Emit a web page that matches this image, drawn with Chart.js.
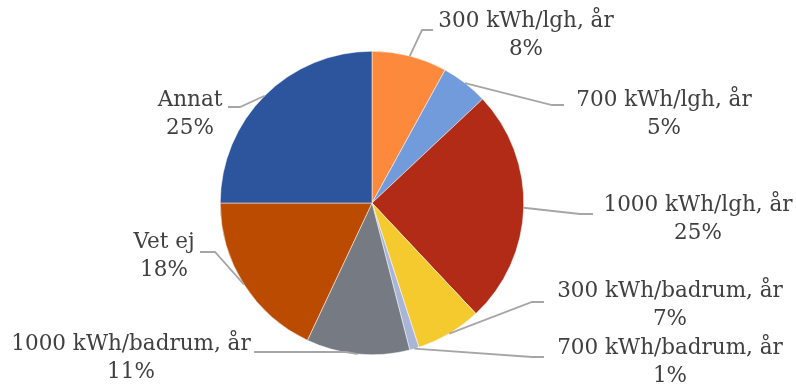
<!DOCTYPE html>
<html>
<head>
<meta charset="utf-8">
<script src="https://cdn.jsdelivr.net/npm/chart.js@4"></script>
<style>
  html, body { margin: 0; padding: 0; background: #fff; }
  canvas { display: block; }
</style>
</head>
<body>
<canvas id="pie" width="796" height="385"></canvas>
<script>
// Slices, clockwise from 12 o'clock
let categories = [
    "300 kWh/lgh, år",
    "700 kWh/lgh, år",
    "1000 kWh/lgh, år",
    "300 kWh/badrum, år",
    "700 kWh/badrum, år",
    "1000 kWh/badrum, år",
    "Vet ej",
    "Annat"
];
let shares = [8, 5, 25, 7, 1, 11, 18, 25];
let sliceColors = ["#FD8A3C", "#729BDC", "#B22B17", "#F5CA2F", "#A9B5D6", "#767A83", "#BB4B00", "#2C559E"];

// Where each label sits: text centre x, first line y, and the leader's bend/end
let labelSpots = [
    { x: 526, y: 21,  bendX: 422, bendY: 30,  endX: 433 },
    { x: 664, y: 100, bendX: 552, bendY: 105, endX: 564 },
    { x: 698, y: 205, bendX: 580, bendY: 214, endX: 593 },
    { x: 670, y: 291, bendX: 532, bendY: 302, endX: 544 },
    { x: 670, y: 348, bendX: 532, bendY: 357, endX: 544 },
    { x: 131, y: 344, bendX: 346, bendY: 352, endX: 254 },
    { x: 164, y: 242, bendX: 215, bendY: 252, endX: 200 },
    { x: 190, y: 100, bendX: 240, bendY: 107, endX: 228 }
];

const labelFont = "21.5px 'DejaVu Serif'";
const lineGap = 28;

// Leader lines and two-line labels (name + percent)
const sliceLabels = {
    id: "sliceLabels",
    afterDraw(chart) {
        let ctx = chart.ctx;
        let arcs = chart.getDatasetMeta(0).data;
        ctx.save();
        arcs.forEach((arc, i) => {
            let spot = labelSpots[i];
            let mid = (arc.startAngle + arc.endAngle) / 2;
            let ax = arc.x + Math.cos(mid) * arc.outerRadius;
            let ay = arc.y + Math.sin(mid) * arc.outerRadius;

            ctx.strokeStyle = "#A6A6A6";
            ctx.lineWidth = 1.8;
            ctx.beginPath();
            ctx.moveTo(ax, ay);
            ctx.lineTo(spot.bendX, spot.bendY);
            ctx.lineTo(spot.endX, spot.bendY);
            ctx.stroke();

            ctx.fillStyle = "#404040";
            ctx.font = labelFont;
            ctx.textAlign = "center";
            ctx.textBaseline = "middle";
            ctx.fillText(categories[i], spot.x, spot.y);
            ctx.fillText(shares[i] + "%", spot.x, spot.y + lineGap);
        });
        ctx.restore();
    }
};

let ctx = document.getElementById("pie").getContext("2d");
new Chart(ctx, {
    type: "pie",
    data: {
        labels: categories,
        datasets: [
            {
                data: shares,
                backgroundColor: sliceColors,
                borderColor: "#ffffff",
                borderWidth: 0.5
            }
        ]
    },
    options: {
        responsive: false,
        animation: false,
        layout: { padding: { left: 220, right: 272, top: 51, bottom: 30 } },
        plugins: {
            legend: { display: false },
            tooltip: { enabled: false }
        }
    },
    plugins: [sliceLabels]
});
</script>
</body>
</html>
